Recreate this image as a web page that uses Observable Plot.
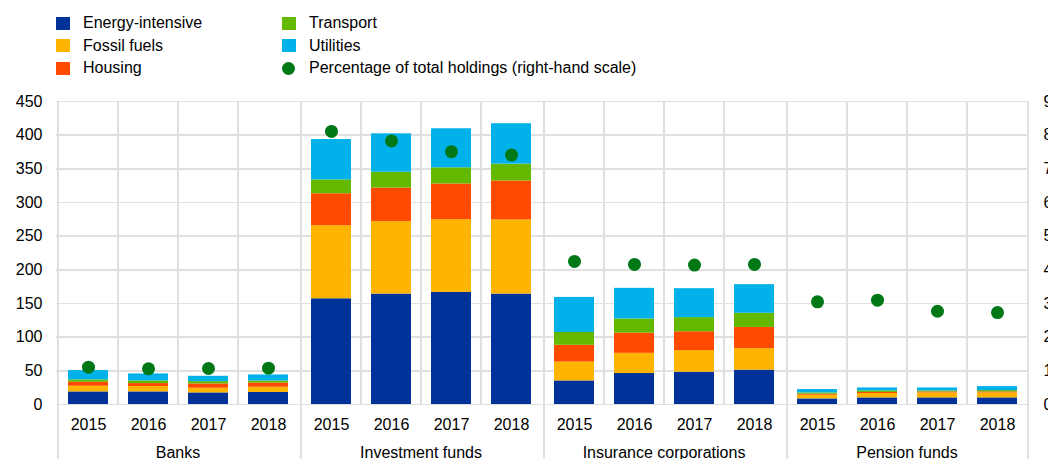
<!DOCTYPE html>
<html><head><meta charset="utf-8">
<script src="https://cdn.jsdelivr.net/npm/d3@7"></script>
<script src="https://cdn.jsdelivr.net/npm/@observablehq/plot@0.6"></script>
<style>
html,body{margin:0;padding:0;background:#fff;overflow:hidden;}
body{font-family:"Liberation Sans",Arial,sans-serif;color:#000;}
#legend{position:relative;height:90px;width:1048px;font-size:16px;}
.item{position:absolute;display:flex;align-items:center;height:20px;white-space:nowrap;}
.sw{width:14px;height:13px;margin-right:13px;flex:none;}
.sw.dot{width:13px;height:13px;border-radius:50%;margin-right:14px;}
#chart svg{display:block;overflow:hidden;}
</style></head><body>
<div id="legend"></div>
<div id="chart"></div>
<script>
// ---- data ----
const groups = ["Banks", "Investment funds", "Insurance corporations", "Pension funds"];
const years = ["2015", "2016", "2017", "2018"];
const sectors = ["Energy-intensive", "Fossil fuels", "Housing", "Transport", "Utilities"];
const sectorColors = ["#003299", "#FFB400", "#FF4B00", "#65B800", "#00B1EA"];
const pctLabel = "Percentage of total holdings (right-hand scale)";
const pctColor = "#007816";

// values per sector, in order groups x years (EUR billions)
const energyIntensive = [18.7, 18.7, 17.2, 17.8, 157, 164, 166.5, 164, 35, 46, 48, 51, 8.3, 9.8, 9.8, 9.8];
const fossilFuels     = [8.4, 7.9, 7.0, 7.8, 108.5, 107.5, 108, 110, 28, 30, 32, 32, 5.5, 6.5, 7.4, 7.4];
const housing         = [5.9, 4.5, 6.3, 6.4, 47.5, 50, 53, 58, 25, 30, 28, 31.5, 1.5, 1.5, 1.5, 1.5];
const transport       = [3.5, 3.9, 3.5, 3.0, 20.5, 23.5, 24, 25, 19, 21, 21, 21, 1.9, 2.4, 1.5, 2.0];
const utilities       = [13.9, 10.4, 7.9, 8.9, 60, 57, 58, 60, 52, 45.5, 43, 42.5, 5.0, 4.4, 4.4, 5.9];
// percentage of total holdings (right-hand scale)
const pctHoldings     = [1.11, 1.06, 1.07, 1.08, 8.11, 7.83, 7.51, 7.41, 4.25, 4.16, 4.14, 4.16, 3.05, 3.10, 2.77, 2.73];

const leftTicks = [0, 50, 100, 150, 200, 250, 300, 350, 400, 450];
const rightMax = 9;
const leftMax = 450;
const ratio = leftMax / rightMax;

// ---- build tables ----
const series = [energyIntensive, fossilFuels, housing, transport, utilities];
const stacked = [];
const dots = [];
const cells = [];
groups.forEach((g, gi) => years.forEach((yr, yi) => {
  const k = gi * years.length + yi;
  cells.push({group: g, year: yr});
  sectors.forEach((s, si) => stacked.push({group: g, year: yr, sector: s, value: series[si][k]}));
  dots.push({group: g, year: yr, pct: pctHoldings[k]});
}));
const firstCells = cells.filter(d => d.year === years[0]);
const innerCells = cells.filter(d => d.year !== years[0]);
const lastCell = cells.slice(-1);

// ---- legend ----
const legend = document.getElementById("legend");
const legendItems = [
  ...sectors.map((s, i) => ({label: s, color: sectorColors[i], dot: false})),
  {label: pctLabel, color: pctColor, dot: true}
];
const colLeft = [56, 282];
const rowTop = [13, 35.5, 58];
legendItems.forEach((it, i) => {
  const col = Math.floor(i / 3), row = i % 3;
  const el = document.createElement("div");
  el.className = "item";
  el.style.left = colLeft[col] + "px";
  el.style.top = rowTop[row] + "px";
  const sw = document.createElement("span");
  sw.className = "sw" + (it.dot ? " dot" : "");
  sw.style.background = it.color;
  el.appendChild(sw);
  const t = document.createElement("span");
  t.textContent = it.label;
  el.appendChild(t);
  legend.appendChild(el);
});

// ---- chart ----
const W = 1048, H = 369, mT = 11, mB = 55, mL = 56, mR = 20;
const halfBand = (W - mL - mR) / groups.length / years.length / 2;
const grid = "#e0e0e0";
const gridW = 1.6;
const lineStyle = {stroke: grid, strokeOpacity: 1, strokeWidth: gridW, shapeRendering: "crispEdges"};
const chart = Plot.plot({
  width: W,
  height: H,
  marginTop: mT,
  marginBottom: mB,
  marginLeft: mL,
  marginRight: mR,
  style: {fontFamily: "'Liberation Sans', Arial, sans-serif", fontSize: "16px", color: "#000", background: "white", overflow: "hidden"},
  fx: {domain: groups, padding: 0, label: null},
  x: {domain: years, padding: 0, label: null},
  y: {domain: [0, leftMax], label: null},
  color: {domain: sectors, range: sectorColors},
  marks: [
    Plot.gridY({ticks: leftTicks, ...lineStyle}),
    // band separators inside each group
    Plot.ruleX(innerCells, {fx: "group", x: "year", dx: -halfBand, ...lineStyle}),
    // group separators continue below the baseline
    Plot.ruleX(firstCells, {fx: "group", x: "year", dx: -halfBand, insetBottom: -70, ...lineStyle}),
    Plot.ruleX(lastCell, {fx: "group", x: "year", dx: halfBand, insetBottom: -70, ...lineStyle}),
    Plot.barY(stacked, {fx: "group", x: "year", y: "value", fill: "sector", insetLeft: 10, insetRight: 10}),
    Plot.dot(dots, {fx: "group", x: "year", y: d => d.pct * ratio, r: 6.5, fill: pctColor, stroke: "none"}),
    Plot.axisY({ticks: leftTicks, tickSize: 0, tickPadding: 14, label: null}),
    Plot.axisY({anchor: "right", ticks: leftTicks, tickSize: 0, tickPadding: 15, tickFormat: d => String(d / ratio), label: null}),
    Plot.axisX({tickSize: 0, tickPadding: 14, label: null}),
    Plot.axisFx({anchor: "bottom", tickSize: 0, tickPadding: 42, label: null})
  ]
});
document.getElementById("chart").appendChild(chart);
</script>
</body></html>
